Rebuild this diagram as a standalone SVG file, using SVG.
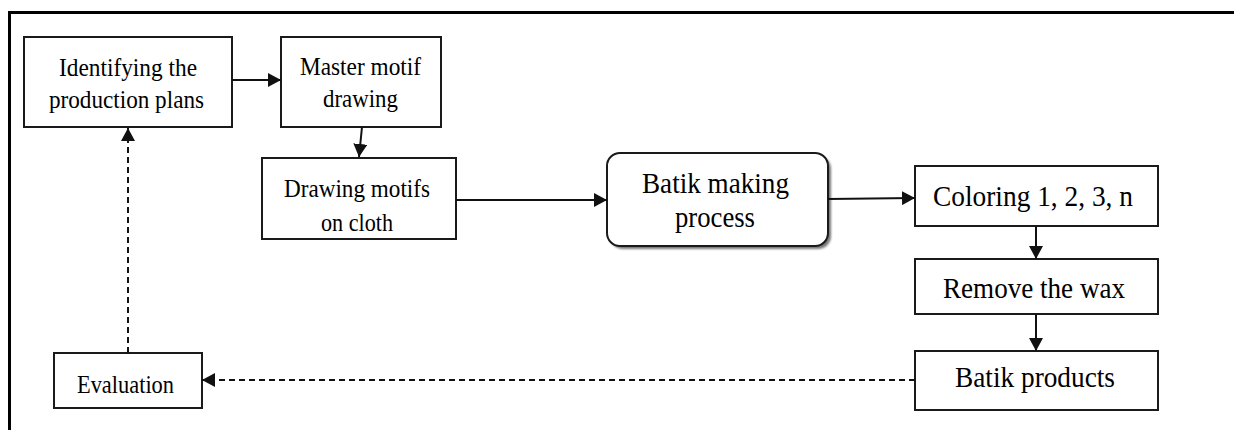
<svg xmlns="http://www.w3.org/2000/svg" width="1234" height="430" viewBox="0 0 1234 430">
<defs>
<style>
.box{fill:#fff;stroke:#1a1a1a;stroke-width:2}
text{font-family:'Liberation Serif','Times New Roman',serif;fill:#000;text-anchor:middle}
.s{font-size:26px}
.l{font-size:30px}
.c{stroke:#111;stroke-width:2;fill:none}
.d{stroke-dasharray:6 4}
</style>
<marker id="ah" viewBox="0 0 13 14" refX="13" refY="7" markerWidth="13" markerHeight="14" markerUnits="userSpaceOnUse" orient="auto">
<path d="M0,0 L13,7 L0,14 z" fill="#111"/>
</marker>
<filter id="sh" x="-10%" y="-10%" width="130%" height="130%"><feGaussianBlur stdDeviation="1"/></filter>
</defs>
<rect width="1234" height="430" fill="#fff"/>
<path d="M9.5,430 L9.5,12.5 L1234,12.5" fill="none" stroke="#000" stroke-width="3"/>

<g id="n1">
<rect class="box" x="24" y="37" width="208" height="90"/>
<text class="s" x="128" y="76" textLength="138" lengthAdjust="spacingAndGlyphs">Identifying the</text>
<text class="s" x="126.5" y="108" textLength="155" lengthAdjust="spacingAndGlyphs">production plans</text>
</g>
<g id="n2">
<rect class="box" x="281" y="37" width="160" height="90"/>
<text class="s" x="360.5" y="75" textLength="121" lengthAdjust="spacingAndGlyphs">Master motif</text>
<text class="s" x="360.5" y="107" textLength="75" lengthAdjust="spacingAndGlyphs">drawing</text>
</g>
<g id="n3">
<rect class="box" x="262" y="158" width="194" height="81"/>
<text class="s" x="357" y="197" textLength="146" lengthAdjust="spacingAndGlyphs">Drawing motifs</text>
<text class="s" x="357" y="231" textLength="72" lengthAdjust="spacingAndGlyphs">on cloth</text>
</g>
<g id="n4">
<rect x="610" y="156" width="221" height="93" rx="13" fill="#777" filter="url(#sh)"/>
<rect class="box" x="607" y="153" width="221" height="93" rx="13"/>
<text class="l" x="715.5" y="193" textLength="147" lengthAdjust="spacingAndGlyphs">Batik making</text>
<text class="l" x="715" y="227" textLength="80" lengthAdjust="spacingAndGlyphs">process</text>
</g>
<g id="n5">
<rect class="box" x="915" y="166" width="243" height="60"/>
<text class="l" x="1033" y="206" textLength="200" lengthAdjust="spacingAndGlyphs">Coloring 1, 2, 3, n</text>
</g>
<g id="n6">
<rect class="box" x="915" y="259" width="243" height="55"/>
<text class="l" x="1034" y="298" textLength="182" lengthAdjust="spacingAndGlyphs">Remove the wax</text>
</g>
<g id="n7">
<rect class="box" x="915" y="351" width="243" height="59"/>
<text class="l" x="1035" y="387" textLength="160" lengthAdjust="spacingAndGlyphs">Batik products</text>
</g>
<g id="n8">
<rect class="box" x="54" y="353" width="148" height="55"/>
<text class="s" x="125.5" y="393" textLength="97" lengthAdjust="spacingAndGlyphs">Evaluation</text>
</g>

<g id="connectors">
<line class="c" x1="232" y1="80" x2="281" y2="80" marker-end="url(#ah)"/>
<line class="c" x1="362" y1="127" x2="359" y2="157" marker-end="url(#ah)"/>
<line class="c" x1="456" y1="200" x2="607" y2="200" marker-end="url(#ah)"/>
<line class="c" x1="828" y1="199" x2="915" y2="198" marker-end="url(#ah)"/>
<line class="c" x1="1036" y1="226" x2="1036" y2="259" marker-end="url(#ah)"/>
<line class="c" x1="1036" y1="314" x2="1036" y2="351" marker-end="url(#ah)"/>
<line class="c d" x1="915" y1="380" x2="202" y2="380" marker-end="url(#ah)"/>
<line class="c d" x1="128" y1="353" x2="128" y2="128" marker-end="url(#ah)"/>
</g>
</svg>
